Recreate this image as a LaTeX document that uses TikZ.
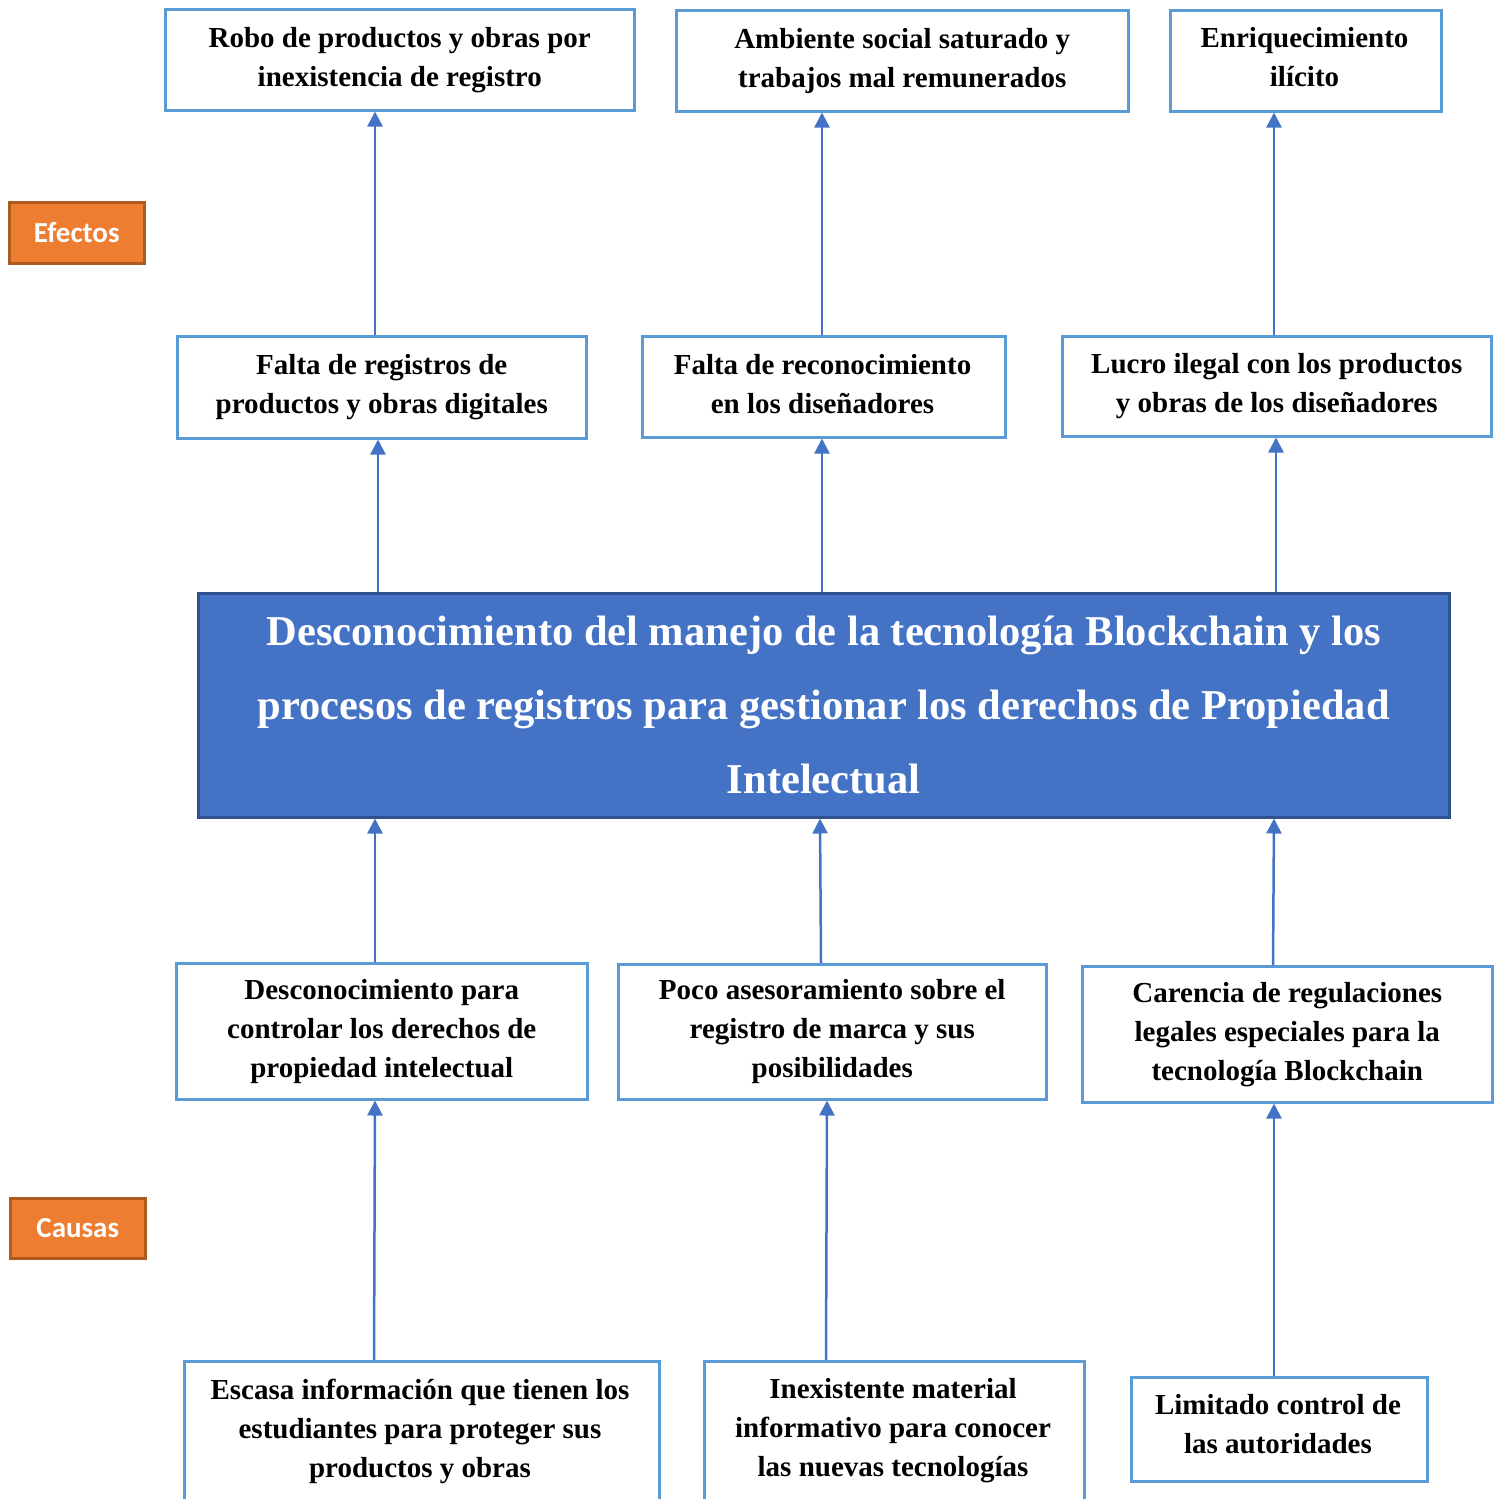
\documentclass[tikz,border=0pt]{standalone}
\usepackage{fontspec}
\setmainfont{Liberation Serif}
\newfontfamily\calibfont{Carlito}
\usetikzlibrary{arrows.meta}
\definecolor{boxblue}{HTML}{5B9BD5}
\definecolor{arrblue}{HTML}{4472C4}
\definecolor{mainfill}{HTML}{4472C4}
\definecolor{mainedge}{HTML}{2F528F}
\definecolor{orfill}{HTML}{ED7D31}
\definecolor{oredge}{HTML}{AE5A21}
\begin{document}
\begin{tikzpicture}[x=1pt,y=-1pt,
 box/.style={draw=boxblue, line width=2.5pt, fill=white, align=center, inner sep=0pt, anchor=north west, font=\bfseries\fontsize{29}{39}\selectfont},
 txt/.style={align=center, inner sep=0pt, font=\bfseries\fontsize{29}{39}\selectfont},
 mainbox/.style={draw=mainedge, line width=2.5pt, fill=mainfill, text=white, align=center, inner sep=0pt, anchor=north west, font=\bfseries\fontsize{42.5}{74}\selectfont},
 tag/.style={draw=oredge, line width=2.5pt, fill=orfill, text=white, inner sep=0pt, anchor=north west, font=\calibfont\bfseries\fontsize{29}{34}\selectfont},
 arr/.style={draw=arrblue, line width=2.5pt, -{Triangle[width=15pt,length=15pt]}}
]
\useasboundingbox (0,0) rectangle (1499,1499);
\clip (0,0) rectangle (1499,1499);

% tags
\node[tag, minimum width=135pt, minimum height=61pt] (ef) at (8,201) {Efectos};
\node[tag, minimum width=135pt, minimum height=60pt] (ca) at (9,1197) {Causas};

% top effects
\node[box, minimum width=469pt, minimum height=101pt] (T1) at (164,8) {Robo de productos y obras por\\inexistencia de registro};
\node[box, minimum width=452pt, minimum height=101pt] (T2) at (675,9) {Ambiente social saturado y\\trabajos mal remunerados};
\node[box, minimum width=271pt, minimum height=101pt] (T3) at (1169,9) {};
\node[txt] (T3t) at (1304.5,57.5) {Enriquecimiento\\ilícito};

% direct effects
\node[box, minimum width=409pt, minimum height=102pt] (M1) at (176,335) {Falta de registros de\\productos y obras digitales};
\node[box, minimum width=363pt, minimum height=101pt] (M2) at (641,335) {};
\node[txt] (M2t) at (822.5,384.5) {Falta de reconocimiento\\en los diseñadores};
\node[box, minimum width=429pt, minimum height=100pt] (M3) at (1061,335) {Lucro ilegal con los productos\\y obras de los diseñadores};

% main problem
\node[mainbox, minimum width=1251pt, minimum height=224pt] (P) at (197,592) {Desconocimiento del manejo de la tecnología Blockchain y los\\procesos de registros para gestionar los derechos de Propiedad\\Intelectual};

% direct causes
\node[box, minimum width=411pt, minimum height=136pt] (C1) at (175,962) {Desconocimiento para\\controlar los derechos de\\propiedad intelectual};
\node[box, minimum width=428pt, minimum height=135pt] (C2) at (617,963) {Poco asesoramiento sobre el\\registro de marca y sus\\posibilidades};
\node[box, minimum width=410pt, minimum height=136pt] (C3) at (1081,965) {Carencia de regulaciones\\legales especiales para la\\tecnología Blockchain};

% root causes
\node[box, minimum width=475pt, minimum height=200pt] (B1) at (183,1360) {};
\node[txt] (B1t) at (420,1431) {Escasa información que tienen los\\estudiantes para proteger sus\\productos y obras};
\node[box, minimum width=380pt, minimum height=200pt] (B2) at (703,1360) {};
\node[txt] (B2t) at (893,1431) {Inexistente material\\informativo para conocer\\las nuevas tecnologías};
\node[box, minimum width=296pt, minimum height=104pt] (B3) at (1130,1376) {};
\node[txt] (B3t) at (1278,1424) {Limitado control de\\las autoridades};

% arrows effects
\draw[arr] (375,0 |- M1.north) -- (375,0 |- T1.south);
\draw[arr] (822,0 |- M2.north) -- (822,0 |- T2.south);
\draw[arr] (1274,0 |- M3.north) -- (1274,0 |- T3.south);
\draw[arr] (378,0 |- P.north) -- (378,0 |- M1.south);
\draw[arr] (822,0 |- P.north) -- (822,0 |- M2.south);
\draw[arr] (1276,0 |- P.north) -- (1276,0 |- M3.south);
% arrows causes
\draw[arr] (375,0 |- C1.north) -- (375,0 |- P.south);
\draw[arr] (821,0 |- C2.north) -- (820,0 |- P.south);
\draw[arr] (1273,0 |- C3.north) -- (1274,0 |- P.south);
\draw[arr] (374,0 |- B1.north) -- (375,0 |- C1.south);
\draw[arr] (826,0 |- B2.north) -- (827,0 |- C2.south);
\draw[arr] (1274,0 |- B3.north) -- (1274,0 |- C3.south);
\end{tikzpicture}
\end{document}
